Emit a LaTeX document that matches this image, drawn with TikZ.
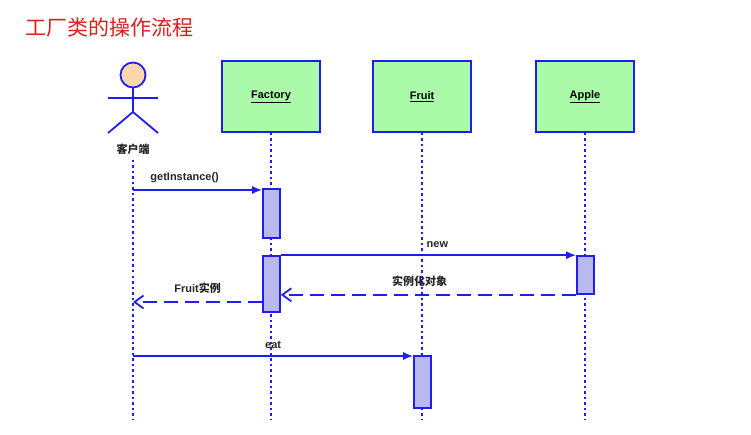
\documentclass[tikz,border=0pt]{standalone}
\usepackage{fontspec}
\setmainfont{Liberation Sans}
\newfontfamily\cjk{Noto Sans CJK SC}
\usetikzlibrary{arrows.meta}
\definecolor{ub}{RGB}{30,30,240}
\definecolor{boxg}{RGB}{170,250,170}
\definecolor{actf}{RGB}{185,185,240}
\definecolor{headf}{RGB}{250,215,170}
\begin{document}
\begin{tikzpicture}[x=1pt,y=-1pt,
 obj/.style={draw=ub,line width=1.8pt,fill=boxg,minimum width=98pt,minimum height=71pt,font=\bfseries\fontsize{11}{12}\selectfont},
 life/.style={draw=ub,line width=1.5pt,dash pattern=on 2.5pt off 3pt},
 act/.style={draw=ub,line width=1.6pt,fill=actf},
 msg/.style={draw=ub,line width=1.8pt,-{Latex[length=10pt,width=8pt]}},
 ret/.style={draw=ub,line width=1.8pt,dash pattern=on 14pt off 7pt,-{Straight Barb[length=9pt,width=13pt]}},
 lbl/.style={font=\bfseries\fontsize{11}{12}\selectfont,text=black!85}]
\useasboundingbox (0,0) rectangle (751,435);
\fill[white] (0,0) rectangle (751,435);
\node[anchor=west,text={rgb,255:red,220;green,30;blue,30},font=\cjk\fontsize{21}{24}\selectfont] (title) at (22,27) {工厂类的操作流程};
% actor
\draw[ub,line width=1.8pt,fill=headf] (133,75) circle (12.5);
\draw[ub,line width=1.8pt] (133,87.5) -- (133,112) (108,98) -- (158,98) (108,133) -- (133,112) -- (158,133);
\node[lbl,font=\cjk\bfseries\fontsize{11}{12}\selectfont] (client) at (133,149) {客户端};
\node[obj] (factory) at (271,96.5) {\underline{Factory}};
\node[obj] (fruit) at (422,96.5) {\underline{Fruit}};
\node[obj] (apple) at (585,96.5) {\underline{Apple}};
\coordinate (c0) at (133,160); \coordinate (c1) at (133,420);
\coordinate (f1) at (271,420); \coordinate (r1) at (422,420); \coordinate (a1) at (585,420);
\draw[life] (c0) -- (c1);
\draw[life] (factory.south) -- (f1);
\draw[life] (fruit.south) -- (r1);
\draw[life] (apple.south) -- (a1);
\node[act,minimum width=17pt,minimum height=49pt,inner sep=0] (fa1) at (271.5,213.5) {};
\node[act,minimum width=17pt,minimum height=56pt,inner sep=0] (fa2) at (271.5,284) {};
\node[act,minimum width=17pt,minimum height=38pt,inner sep=0] (aa) at (585.5,275) {};
\node[act,minimum width=17pt,minimum height=52pt,inner sep=0] (ra) at (422.5,382) {};
\coordinate (m1s) at (133,190);
\draw[msg] (m1s) -- (m1s -| fa1.west) node[lbl,pos=0.4,above=3pt] {getInstance()};
\draw[msg] (fa2.north east) -- (fa2.north east -| aa.west) node[lbl,pos=0.53,above=3pt] {new};
\draw[ret] (aa.south west) -- (aa.south west -| fa2.east) node[lbl,pos=0.53,above=4pt,font=\cjk\bfseries\fontsize{11}{12}\selectfont] {实例化对象};
\coordinate (m4) at (133,302);
\draw[ret] (fa2.west |- m4) -- (m4) node[lbl,pos=0.5,above=4pt] {Fruit{\cjk 实例}};
\coordinate (m5) at (133,356);
\draw[msg] (m5) -- (m5 -| ra.west) node[lbl,midway,above=3pt] {eat};
\end{tikzpicture}
\end{document}
